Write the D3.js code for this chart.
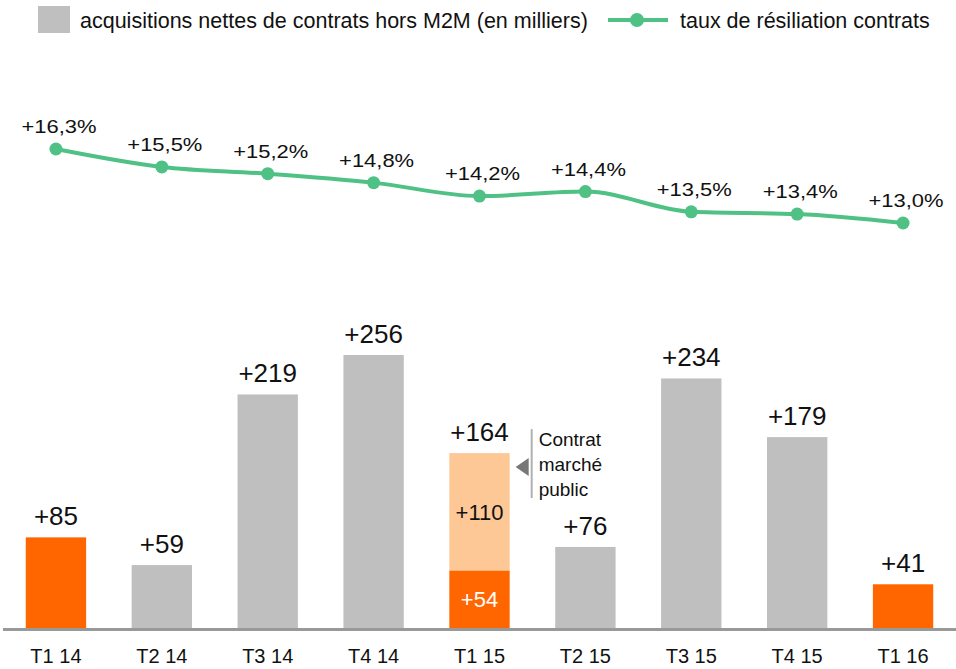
<!DOCTYPE html>
<html>
<head>
<meta charset="utf-8">
<script src="https://cdn.jsdelivr.net/npm/d3@7"></script>
<style>
  body { margin: 0; background: #fff; }
  text { font-family: "Liberation Sans", Arial, sans-serif; }
</style>
</head>
<body>
<svg id="chart"></svg>
<script>
const quarters = ["T1 14", "T2 14", "T3 14", "T4 14", "T1 15", "T2 15", "T3 15", "T4 15", "T1 16"]
const baseAdds = [85, 59, 219, 256, 54, 76, 234, 179, 41]     // net adds excl. M2M (thousands)
const publicAdds = [0, 0, 0, 0, 110, 0, 0, 0, 0]              // public-market contract part
const churnRates = [16.3, 15.5, 15.2, 14.8, 14.2, 14.4, 13.5, 13.4, 13.0]
const highlighted = ["T1 14", "T1 15", "T1 16"]

function initializeElements() {
const svgWidth = 956
const svgHeight = 669
const baseline = 628

const gray = "#bfbfbf", orange = "#ff6600", lightOrange = "#fdc896", green = "#4fc185"

const svg = d3.select("#chart")
  .attr("width", svgWidth)
  .attr("height", svgHeight)

const xScale = d3.scaleBand()
  .domain(quarters)
  .range([3, 956])
  .paddingInner(0.43)
  .paddingOuter(0.215)

const yScale = d3.scaleLinear()
  .domain([0, 256])
  .range([baseline, 355])

const rateScale = d3.scaleLinear()
  .domain([13.0, 16.3])
  .range([223, 149])

const data = quarters.map((q, i) => ({q, base: baseAdds[i], pub: publicAdds[i], rate: churnRates[i]}))
const cx = d => xScale(d.q) + xScale.bandwidth() / 2
const fmt = v => "+" + d3.format(".1f")(v).replace(".", ",") + "%"

// bars - bottom part
svg.append("g").selectAll("rect")
  .data(data)
  .join("rect")
  .attr("x", d => xScale(d.q))
  .attr("y", d => yScale(d.base))
  .attr("width", xScale.bandwidth())
  .attr("height", d => baseline - yScale(d.base))
  .attr("fill", d => highlighted.includes(d.q) ? orange : gray)

// public contract part on top
const stacked = data.filter(d => d.pub > 0)
svg.append("g").selectAll("rect")
  .data(stacked)
  .join("rect")
  .attr("x", d => xScale(d.q))
  .attr("y", d => yScale(d.base + d.pub))
  .attr("width", xScale.bandwidth())
  .attr("height", d => yScale(d.base) - yScale(d.base + d.pub))
  .attr("fill", lightOrange)

// inner labels for stacked bar
stacked.forEach(d => {
  svg.append("text")
    .attr("x", cx(d)).attr("y", (yScale(d.base) + yScale(d.base + d.pub)) / 2 + 8)
    .attr("text-anchor", "middle").attr("font-size", 22).attr("fill", "#111")
    .text("+" + d.pub)
  svg.append("text")
    .attr("x", cx(d)).attr("y", (yScale(0) + yScale(d.base)) / 2 + 8)
    .attr("text-anchor", "middle").attr("font-size", 22).attr("fill", "#fff")
    .text("+" + d.base)

  // callout "Contrat marché public"
  const xr = xScale(d.q) + xScale.bandwidth()
  const top = yScale(d.base + d.pub)
  const ymid = top + 14
  svg.append("line")
    .attr("x1", xr + 22).attr("x2", xr + 22)
    .attr("y1", top - 24).attr("y2", top + 45)
    .attr("stroke", "#b0b0b0").attr("stroke-width", 2)
  svg.append("path")
    .attr("d", `M${xr + 6},${ymid} L${xr + 19},${ymid - 9} L${xr + 19},${ymid + 9} Z`)
    .attr("fill", "#777")
  const t = svg.append("text")
    .attr("x", xr + 29).attr("y", top - 7)
    .attr("font-size", 19).attr("fill", "#111")
  ;["Contrat", "marché", "public"].forEach((s, j) => {
    t.append("tspan").attr("x", xr + 29).attr("dy", j === 0 ? 0 : 25).text(s)
  })
})

// total labels above bars
svg.append("g").selectAll("text")
  .data(data)
  .join("text")
  .attr("x", cx)
  .attr("y", d => yScale(d.base + d.pub) - 12)
  .attr("text-anchor", "middle")
  .attr("font-size", 26)
  .attr("fill", "#111")
  .text(d => "+" + (d.base + d.pub))

// axis line
svg.append("line")
  .attr("x1", 3).attr("x2", 956)
  .attr("y1", baseline + 1.5).attr("y2", baseline + 1.5)
  .attr("stroke", "#999").attr("stroke-width", 3)

// x labels
svg.append("g").selectAll("text")
  .data(data)
  .join("text")
  .attr("x", cx)
  .attr("y", 663)
  .attr("text-anchor", "middle")
  .attr("font-size", 20)
  .attr("fill", "#111")
  .text(d => d.q)

// churn line
const line = d3.line()
  .x(cx)
  .y(d => rateScale(d.rate))
  .curve(d3.curveMonotoneX)

svg.append("path")
  .datum(data)
  .attr("d", line)
  .attr("fill", "none")
  .attr("stroke", green)
  .attr("stroke-width", 4)

svg.append("g").selectAll("circle")
  .data(data)
  .join("circle")
  .attr("cx", cx)
  .attr("cy", d => rateScale(d.rate))
  .attr("r", 6.5)
  .attr("fill", green)

svg.append("g").selectAll("text")
  .data(data)
  .join("text")
  .attr("transform", d => `translate(${cx(d) + 3},${rateScale(d.rate) - 16}) scale(1.22,1)`)
  .attr("text-anchor", "middle")
  .attr("font-size", 18)
  .attr("fill", "#111")
  .text(d => fmt(d.rate))

// legend
const legend = svg.append("g")
legend.append("rect").attr("x", 38).attr("y", 6).attr("width", 32).attr("height", 27).attr("fill", gray)
legend.append("text").attr("x", 80).attr("y", 28).attr("font-size", 21.5).attr("fill", "#111")
  .text("acquisitions nettes de contrats hors M2M (en milliers)")
legend.append("line").attr("x1", 608).attr("x2", 668).attr("y1", 20).attr("y2", 20)
  .attr("stroke", green).attr("stroke-width", 4)
legend.append("circle").attr("cx", 637).attr("cy", 20).attr("r", 7).attr("fill", green)
legend.append("text").attr("x", 680).attr("y", 28).attr("font-size", 21.5).attr("fill", "#111")
  .text("taux de résiliation contrats")
}

initializeElements();
</script>
</body>
</html>
